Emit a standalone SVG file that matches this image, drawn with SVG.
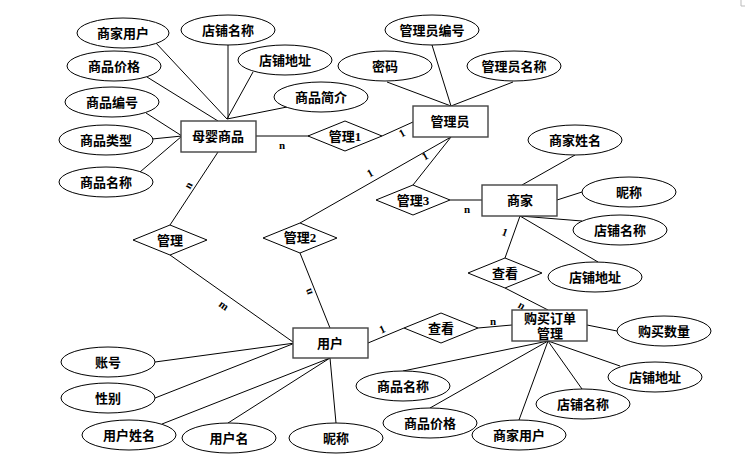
<svg xmlns="http://www.w3.org/2000/svg" width="745" height="467" viewBox="0 0 745 467">
<style>
.e{fill:#fff;stroke:#000;stroke-width:1}
.r{fill:#fff;stroke:#444;stroke-width:1.4}
.d{fill:#fff;stroke:#000;stroke-width:1}
.t{font-family:"Liberation Serif","Noto Sans CJK SC",serif;font-size:13px;font-weight:bold;fill:#000;text-anchor:middle;dominant-baseline:central}
.c line{stroke:#000;stroke-width:1}
.l{font-family:"Liberation Serif",serif;font-size:11px;font-weight:bold;fill:#000;text-anchor:middle;dominant-baseline:central}
</style>
<rect width="745" height="467" fill="#fff"/>
<path d="M741 0V6H745" fill="none" stroke="#bbb" stroke-width="1"/>
<g class="c" id="connectors">
<line x1="155" y1="42" x2="227" y2="119"/>
<line x1="228" y1="45" x2="228" y2="119"/>
<line x1="253" y1="72" x2="227" y2="119"/>
<line x1="147" y1="77" x2="218" y2="121"/>
<line x1="287" y1="107" x2="227" y2="119"/>
<line x1="146" y1="113" x2="182" y2="136"/>
<line x1="152" y1="139" x2="182" y2="136"/>
<line x1="140" y1="172" x2="182" y2="136"/>
<line x1="256" y1="136" x2="309" y2="136"/>
<line x1="382" y1="136" x2="413" y2="122"/>
<line x1="432" y1="45" x2="451" y2="106"/>
<line x1="387" y1="82" x2="451" y2="106"/>
<line x1="513" y1="82" x2="451" y2="106"/>
<line x1="451" y1="137" x2="413" y2="185"/>
<line x1="451" y1="137" x2="300" y2="223"/>
<line x1="450" y1="200" x2="482" y2="200"/>
<line x1="575" y1="155" x2="522" y2="185"/>
<line x1="582" y1="192" x2="557" y2="200"/>
<line x1="520" y1="216" x2="582" y2="221"/>
<line x1="520" y1="216" x2="598" y2="262"/>
<line x1="520" y1="216" x2="505" y2="258"/>
<line x1="505" y1="288" x2="548" y2="310"/>
<line x1="218" y1="152" x2="170" y2="225"/>
<line x1="170" y1="255" x2="293" y2="342"/>
<line x1="300" y1="253" x2="330" y2="328"/>
<line x1="368" y1="343" x2="404" y2="328"/>
<line x1="478" y1="328" x2="512" y2="325"/>
<line x1="587" y1="325" x2="617" y2="331"/>
<line x1="548" y1="341" x2="620" y2="366"/>
<line x1="548" y1="341" x2="582" y2="389"/>
<line x1="548" y1="341" x2="519" y2="420"/>
<line x1="548" y1="341" x2="430" y2="408"/>
<line x1="548" y1="341" x2="403" y2="371"/>
<line x1="155" y1="362" x2="295" y2="343"/>
<line x1="155" y1="398" x2="295" y2="343"/>
<line x1="162" y1="424" x2="330" y2="358"/>
<line x1="228" y1="423" x2="330" y2="358"/>
<line x1="336" y1="423" x2="330" y2="358"/>
<text class="l" x="282" y="145">n</text>
<text class="l" transform="translate(402,133) rotate(-30)">1</text>
<text class="l" transform="translate(425,156) rotate(-30)">1</text>
<text class="l" transform="translate(370,173) rotate(-30)">1</text>
<text class="l" transform="translate(188,185) rotate(-60)">n</text>
<text class="l" transform="translate(224,305) rotate(35)">m</text>
<text class="l" transform="translate(308,292) rotate(-110)">n</text>
<text class="l" x="467" y="209">n</text>
<text class="l" transform="translate(505,232) rotate(20)">1</text>
<text class="l" transform="translate(522,305) rotate(30)">n</text>
<text class="l" transform="translate(382,329) rotate(-25)">1</text>
<text class="l" x="493" y="321">n</text>
</g>
<g id="muying"><rect class="r" x="181" y="121" width="75" height="31"/><text class="t" x="218" y="136">母婴商品</text></g>
<g id="guanliyuan"><rect class="r" x="413" y="106" width="75" height="31"/><text class="t" x="450" y="121">管理员</text></g>
<g id="shangjia"><rect class="r" x="482" y="185" width="75" height="31"/><text class="t" x="520" y="200">商家</text></g>
<g id="dingdan"><rect class="r" x="512" y="310" width="75" height="31"/><text class="t" x="550" y="318">购买订单</text><text class="t" x="550" y="333">管理</text></g>
<g id="yonghu"><rect class="r" x="293" y="328" width="75" height="30"/><text class="t" x="330" y="343">用户</text></g>
<g id="guanli1"><polygon class="d" points="308,136 345,121 382,136 345,151"/><text class="t" x="345" y="136">管理1</text></g>
<g id="guanli"><polygon class="d" points="133,240 170,225 207,240 170,255"/><text class="t" x="170" y="240">管理</text></g>
<g id="guanli2"><polygon class="d" points="263,238 300,223 337,238 300,253"/><text class="t" x="300" y="237">管理2</text></g>
<g id="guanli3"><polygon class="d" points="376,200 413,185 450,200 413,215"/><text class="t" x="413" y="200">管理3</text></g>
<g id="chakan1"><polygon class="d" points="468,273 505,258 542,273 505,288"/><text class="t" x="505" y="273">查看</text></g>
<g id="chakan2"><polygon class="d" points="404,328 441,313 478,328 441,343"/><text class="t" x="441" y="328">查看</text></g>
<g id="a1"><ellipse class="e" cx="123" cy="33" rx="46" ry="15"/><text class="t" x="123" y="33">商家用户</text></g>
<g id="a2"><ellipse class="e" cx="228" cy="30" rx="47" ry="15"/><text class="t" x="228" y="30">店铺名称</text></g>
<g id="a3"><ellipse class="e" cx="285" cy="60" rx="47" ry="15"/><text class="t" x="285" y="60">店铺地址</text></g>
<g id="a4"><ellipse class="e" cx="114" cy="66" rx="47" ry="15"/><text class="t" x="114" y="66">商品价格</text></g>
<g id="a5"><ellipse class="e" cx="321" cy="97" rx="47" ry="15"/><text class="t" x="321" y="97">商品简介</text></g>
<g id="a6"><ellipse class="e" cx="112" cy="102" rx="47" ry="15"/><text class="t" x="112" y="102">商品编号</text></g>
<g id="a7"><ellipse class="e" cx="106" cy="140" rx="47" ry="15"/><text class="t" x="106" y="140">商品类型</text></g>
<g id="a8"><ellipse class="e" cx="106" cy="182" rx="47" ry="15"/><text class="t" x="106" y="182">商品名称</text></g>
<g id="a9"><ellipse class="e" cx="432" cy="30" rx="47" ry="15"/><text class="t" x="432" y="30">管理员编号</text></g>
<g id="a10"><ellipse class="e" cx="385" cy="66" rx="47" ry="15"/><text class="t" x="385" y="66">密码</text></g>
<g id="a11"><ellipse class="e" cx="514" cy="66" rx="47" ry="15"/><text class="t" x="514" y="66">管理员名称</text></g>
<g id="a12"><ellipse class="e" cx="575" cy="140" rx="47" ry="15"/><text class="t" x="575" y="140">商家姓名</text></g>
<g id="a13"><ellipse class="e" cx="629" cy="192" rx="47" ry="15"/><text class="t" x="629" y="192">昵称</text></g>
<g id="a14"><ellipse class="e" cx="620" cy="230" rx="47" ry="15"/><text class="t" x="620" y="230">店铺名称</text></g>
<g id="a15"><ellipse class="e" cx="595" cy="277" rx="47" ry="15"/><text class="t" x="595" y="277">店铺地址</text></g>
<g id="a16"><ellipse class="e" cx="664" cy="331" rx="47" ry="15"/><text class="t" x="664" y="331">购买数量</text></g>
<g id="a17"><ellipse class="e" cx="655" cy="377" rx="47" ry="15"/><text class="t" x="655" y="377">店铺地址</text></g>
<g id="a18"><ellipse class="e" cx="583" cy="404" rx="47" ry="15"/><text class="t" x="583" y="404">店铺名称</text></g>
<g id="a19"><ellipse class="e" cx="519" cy="435" rx="47" ry="15"/><text class="t" x="519" y="435">商家用户</text></g>
<g id="a20"><ellipse class="e" cx="430" cy="423" rx="47" ry="15"/><text class="t" x="430" y="423">商品价格</text></g>
<g id="a21"><ellipse class="e" cx="403" cy="386" rx="47" ry="15"/><text class="t" x="403" y="386">商品名称</text></g>
<g id="a22"><ellipse class="e" cx="108" cy="362" rx="47" ry="15"/><text class="t" x="108" y="362">账号</text></g>
<g id="a23"><ellipse class="e" cx="108" cy="398" rx="47" ry="15"/><text class="t" x="108" y="398">性别</text></g>
<g id="a24"><ellipse class="e" cx="129" cy="435" rx="47" ry="15"/><text class="t" x="129" y="435">用户姓名</text></g>
<g id="a25"><ellipse class="e" cx="229" cy="438" rx="47" ry="15"/><text class="t" x="229" y="438">用户名</text></g>
<g id="a26"><ellipse class="e" cx="336" cy="438" rx="47" ry="15"/><text class="t" x="336" y="438">昵称</text></g>
</svg>
